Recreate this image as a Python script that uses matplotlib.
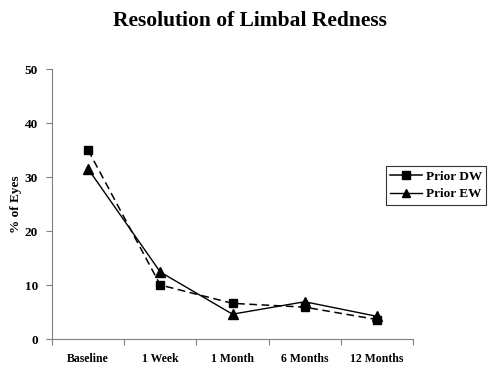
import matplotlib
matplotlib.use("Agg")
import matplotlib.pyplot as plt
import numpy as np

categories = ["Baseline", "1 Week", "1 Month", "6 Months", "12 Months"]
prior_dw = [35.0, 10.0, 6.6, 5.9, 3.6]
prior_ew = [31.5, 12.4, 4.6, 6.9, 4.2]
y_ticks = [0, 10, 20, 30, 40, 50]

plt.rcParams['font.family'] = ['Liberation Serif', 'DejaVu Serif']
fig = plt.figure(figsize=(5, 3.75), dpi=100)
ax = fig.add_axes([0.104, 0.096, 0.722, 0.72])
x = np.arange(len(categories))
ax.plot(x, prior_dw, color='black', linestyle=(0, (5, 3)), linewidth=1.1,
        marker='s', markersize=6, label='Prior DW')
ax.plot(x, prior_ew, color='black', linestyle='-', linewidth=1.0,
        marker='^', markersize=7, label='Prior EW')
ax.set_xlim(-0.5, len(categories) - 0.5)
ax.set_ylim(0, 50)
ax.set_yticks(y_ticks)
ax.set_yticklabels([str(t) for t in y_ticks], fontsize=9.5, fontweight='bold')
ax.set_xticks(np.arange(-0.5, len(categories), 1.0))
ax.set_xticklabels([])
ax.set_xticks(x, minor=True)
ax.set_xticklabels(categories, minor=True, fontsize=8.5, fontweight='bold')
ax.tick_params(axis='x', which='minor', length=0, pad=10)
ax.tick_params(axis='x', which='major', length=4, direction='out', color='#808080')
ax.tick_params(axis='y', length=4, direction='out', color='#808080', pad=6)
for s in ['top', 'right']:
    ax.spines[s].set_visible(False)
for s in ['left', 'bottom']:
    ax.spines[s].set_color('#808080')
ax.set_ylabel('% of Eyes', fontsize=9.5, fontweight='bold', labelpad=2)
fig.suptitle('Resolution of Limbal Redness', fontsize=15.5, fontweight='bold', y=0.97)
leg = fig.legend(loc='center', bbox_to_anchor=(0.872, 0.505), frameon=True,
                 fancybox=False, edgecolor='black', prop={'weight': 'bold', 'size': 9.5},
                 handlelength=2.4, handletextpad=0.3, borderpad=0.35, labelspacing=0.4,
                 markerscale=0.85)
leg.get_frame().set_linewidth(0.8)
for h in leg.legend_handles:
    h.set_linestyle('-')
fig.savefig('out.png', dpi=100)
